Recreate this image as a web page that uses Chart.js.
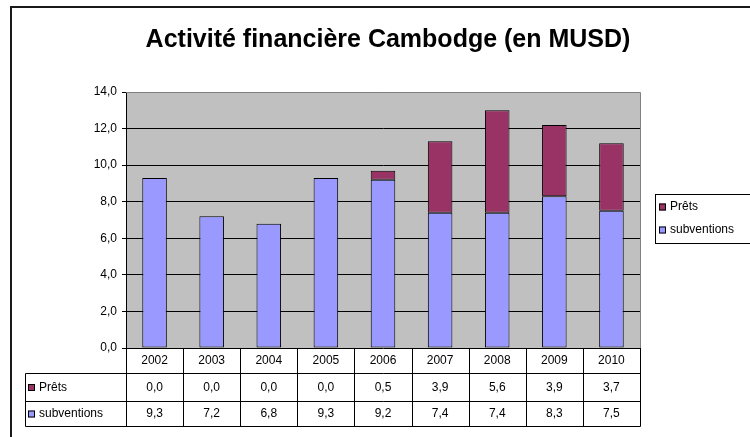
<!DOCTYPE html>
<html>
<head>
<meta charset="utf-8">
<script src="https://cdn.jsdelivr.net/npm/chart.js@4"></script>
<style>
  html, body { margin: 0; padding: 0; background: #fff; }
  canvas { display: block; }
</style>
</head>
<body>
<canvas id="chart" width="750" height="437"></canvas>
<script>
// Data
const years = ['2002', '2003', '2004', '2005', '2006', '2007', '2008', '2009', '2010'];
const prets = [0.0, 0.0, 0.0, 0.0, 0.5, 3.9, 5.6, 3.9, 3.7];
const subventions = [9.3, 7.2, 6.8, 9.3, 9.2, 7.4, 7.4, 8.3, 7.5];
const yMax = 14;
const yStep = 2;

const titleText = 'Activité financière Cambodge (en MUSD)';
const FONT = '"Liberation Sans", Arial, sans-serif';
const PRETS_COLOR = '#993366';
const SUBV_COLOR = '#9999FF';

const fmt = v => v.toFixed(1).replace('.', ',');

// Draws frame, title, plot background, data table and legend
const excelLook = {
    id: 'excelLook',
    beforeDraw(chart) {
        const ctx = chart.ctx;
        const area = chart.chartArea;
        ctx.save();
        ctx.fillStyle = '#fff';
        ctx.fillRect(0, 0, chart.width, chart.height);

        // outer frame
        ctx.strokeStyle = '#1a1a1a';
        ctx.lineWidth = 2;
        ctx.strokeRect(11, 7, 800, 500);

        // title
        ctx.fillStyle = '#000';
        ctx.font = 'bold 25px ' + FONT;
        ctx.textAlign = 'center';
        ctx.textBaseline = 'alphabetic';
        ctx.fillText(titleText, 388, 47);

        // plot background
        ctx.fillStyle = '#C0C0C0';
        ctx.fillRect(area.left, area.top, area.right - area.left, area.bottom - area.top);
        ctx.restore();
    },
    afterDraw(chart) {
        const ctx = chart.ctx;
        const area = chart.chartArea;
        const x = chart.scales.x;
        ctx.save();

        // grey plot border on top and right
        ctx.strokeStyle = '#808080';
        ctx.lineWidth = 1;
        ctx.beginPath();
        ctx.moveTo(area.left, area.top + 0.5);
        ctx.lineTo(area.right + 0.5, area.top + 0.5);
        ctx.lineTo(area.right + 0.5, area.bottom);
        ctx.stroke();

        // data table
        const tLeft = 25.5;
        const rows = [area.bottom, 373.5, 401.5, 426.5];
        const bounds = [x.left];
        for (let i = 0; i < years.length - 1; i++) {
            bounds.push((x.getPixelForValue(i) + x.getPixelForValue(i + 1)) / 2);
        }
        bounds.push(x.right);

        ctx.strokeStyle = '#000';
        ctx.beginPath();
        ctx.moveTo(area.left, rows[1]);
        ctx.lineTo(tLeft, rows[1]);
        ctx.lineTo(tLeft, rows[3]);
        ctx.lineTo(area.right + 0.5, rows[3]);
        ctx.moveTo(area.left, rows[2]);
        ctx.lineTo(tLeft, rows[2]);
        ctx.moveTo(area.left, rows[1]);
        ctx.lineTo(area.right + 0.5, rows[1]);
        ctx.moveTo(area.left, rows[2]);
        ctx.lineTo(area.right + 0.5, rows[2]);
        bounds.forEach(b => {
            const bx = Math.round(b) + 0.5;
            ctx.moveTo(bx, area.bottom);
            ctx.lineTo(bx, rows[3]);
        });
        ctx.stroke();

        ctx.fillStyle = '#000';
        ctx.font = '12px ' + FONT;
        ctx.textAlign = 'center';
        ctx.textBaseline = 'middle';
        const mids = [(rows[0] + rows[1]) / 2, (rows[1] + rows[2]) / 2, (rows[2] + rows[3]) / 2];
        years.forEach((yr, i) => {
            const cx = x.getPixelForValue(i);
            ctx.fillText(yr, cx, mids[0]);
            ctx.fillText(fmt(prets[i]), cx, mids[1]);
            ctx.fillText(fmt(subventions[i]), cx, mids[2]);
        });

        const swatch = (sx, sy, color) => {
            ctx.fillStyle = color;
            ctx.fillRect(sx, sy - 3.5, 7, 7);
            ctx.strokeStyle = '#000';
            ctx.strokeRect(sx + 0.5, sy - 3.5 + 0.5, 6, 6);
        };

        // row headers
        ctx.textAlign = 'left';
        swatch(28, mids[1], PRETS_COLOR);
        swatch(28, mids[2], SUBV_COLOR);
        ctx.fillStyle = '#000';
        ctx.fillText('Prêts', 39, mids[1]);
        ctx.fillText('subventions', 39, mids[2]);

        // legend
        ctx.strokeStyle = '#000';
        ctx.strokeRect(655.5, 194.5, 130, 49);
        swatch(659, 207, PRETS_COLOR);
        swatch(659, 230, SUBV_COLOR);
        ctx.fillStyle = '#000';
        ctx.fillText('Prêts', 670, 207);
        ctx.fillText('subventions', 670, 230);

        ctx.restore();
    }
};

new Chart(document.getElementById('chart'), {
    type: 'bar',
    data: {
        labels: years,
        datasets: [
            {
                label: 'subventions',
                data: subventions,
                backgroundColor: SUBV_COLOR,
                borderColor: '#000',
                borderWidth: 1,
                borderSkipped: false
            },
            {
                label: 'Prêts',
                data: prets,
                backgroundColor: PRETS_COLOR,
                borderColor: '#000',
                borderWidth: 1,
                borderSkipped: false
            }
        ]
    },
    options: {
        responsive: false,
        animation: false,
        events: [],
        layout: {
            padding: { left: 0, right: 110, top: 92, bottom: 89 }
        },
        datasets: {
            bar: {
                categoryPercentage: 1,
                barPercentage: 0.43
            }
        },
        scales: {
            x: {
                stacked: true,
                display: false
            },
            y: {
                stacked: true,
                min: 0,
                max: yMax,
                afterFit: scale => { scale.width = 126; },
                ticks: {
                    stepSize: yStep,
                    padding: 5,
                    color: '#000',
                    font: { family: FONT, size: 12 },
                    callback: v => fmt(v)
                },
                grid: {
                    color: ctx => (ctx.tick && ctx.tick.value === yMax ? '#808080' : '#000'),
                    tickColor: '#000',
                    tickLength: 4,
                    lineWidth: 1
                },
                border: { color: '#000', width: 1 }
            }
        },
        plugins: {
            legend: { display: false },
            title: { display: false },
            tooltip: { enabled: false }
        }
    },
    plugins: [excelLook]
});
</script>
</body>
</html>
